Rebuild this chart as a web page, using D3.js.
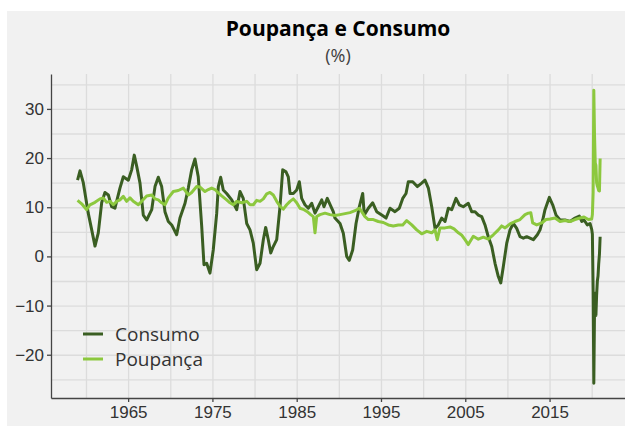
<!DOCTYPE html>
<html>
<head>
<meta charset="utf-8">
<script src="https://cdn.jsdelivr.net/npm/d3@7"></script>
<style>
  body { margin: 0; background: #fff; }
  svg { display: block; font-family: 'Open Sans', 'Noto Sans', sans-serif; }
  .grid line { stroke: #dcdcdc; stroke-width: 1.3; }
  .grid path { display: none; }
  .axis path, .axis line { stroke: #444; stroke-width: 1.3; }
  .axis text { font-size: 17px; fill: #333; }
</style>
</head>
<body>
<div id="chart"></div>
<script>
// dados: [ano, valor em %]
const consumo = [
  [1959.0, 15.5], [1959.29, 17.4], [1959.68, 15], [1960.27, 8.8], [1960.68, 5.4], [1961.07, 2.1],
  [1961.46, 4.8], [1961.86, 10.9], [1962.25, 13], [1962.65, 12.5], [1963.05, 10.1], [1963.44, 9.8],
  [1964.03, 13.9], [1964.43, 16.2], [1965.02, 15.5], [1965.42, 17.6], [1965.73, 20.6], [1966.02, 18.3],
  [1966.41, 14.9], [1966.8, 8.4], [1967.2, 7.4], [1967.8, 9.5], [1968.19, 14.2], [1968.58, 16.1],
  [1968.98, 14.2], [1969.37, 9.1], [1969.77, 7.1], [1970.17, 6.4], [1970.76, 4.4], [1971.15, 7.8],
  [1971.75, 10.8], [1972.14, 13.9], [1972.54, 17.6], [1972.93, 19.8], [1973.32, 16.2], [1973.73, 6.1],
  [1974.0, -1.7], [1974.32, -1.4], [1974.71, -3.4], [1975.1, 1.3], [1975.51, 8.8], [1975.7, 14.2],
  [1975.98, 16.1], [1976.29, 13.5], [1976.69, 12.8], [1977.29, 11.5], [1977.88, 9.5], [1978.27, 13.2],
  [1978.66, 11.8], [1979.07, 6.7], [1979.46, 5.4], [1979.85, 2.7], [1980.25, -2.7], [1980.65, -1.4],
  [1981.04, 3.4], [1981.32, 5.9], [1981.63, 3.4], [1981.92, 0.7], [1982.22, 2], [1982.63, 3.4],
  [1983.02, 10.1], [1983.34, 17.6], [1983.73, 17.2], [1984.0, 16.2], [1984.21, 12.8], [1984.6, 12.8],
  [1985.0, 13.5], [1985.31, 15.2], [1985.59, 11.8], [1985.98, 10.5], [1986.38, 9.8], [1986.78, 10.8],
  [1987.17, 8.8], [1987.56, 10.1], [1987.97, 11.5], [1988.24, 10.1], [1988.63, 11.8], [1989.03, 10.3],
  [1989.34, 9.1], [1989.54, 7.8], [1990.14, 6.7], [1990.53, 4.7], [1990.93, 0], [1991.24, -0.8],
  [1991.64, 1.3], [1992.04, 6.7], [1992.43, 10.1], [1992.83, 12.8], [1993.02, 8.4], [1993.5, 9.8],
  [1994.02, 10.9], [1994.49, 9.1], [1995.09, 8.4], [1995.6, 7.8], [1996.07, 9.8], [1996.66, 9.1],
  [1997.17, 9.8], [1997.58, 11.8], [1997.97, 12.8], [1998.24, 15.2], [1998.76, 15.2], [1999.31, 14.2],
  [1999.83, 14.9], [2000.22, 15.5], [2000.62, 13.9], [2001.02, 10.1], [2001.41, 5.7], [2001.8, 6.4],
  [2002.2, 7.8], [2002.6, 7.1], [2002.99, 9.8], [2003.39, 9.5], [2003.9, 11.8], [2004.29, 10.5],
  [2004.77, 10.1], [2005.36, 10.8], [2005.76, 9.1], [2006.16, 9.1], [2006.55, 8.4], [2006.95, 8.1],
  [2007.34, 6.4], [2007.73, 4], [2008.14, 2], [2008.53, -1.4], [2008.92, -4.1], [2009.21, -5.4],
  [2009.51, -2.1], [2009.92, 2.7], [2010.31, 5.4], [2010.7, 6.7], [2011.1, 5.7], [2011.5, 4],
  [2011.89, 3.7], [2012.29, 4], [2012.68, 3.7], [2013.07, 3.4], [2013.55, 4.4], [2013.87, 5.4],
  [2014.19, 7.4], [2014.46, 9.5], [2014.97, 12.0], [2015.37, 10.5], [2015.77, 8.4], [2016.24, 7.4],
  [2016.83, 7.4], [2017.43, 7.1], [2018.02, 7.8], [2018.53, 8.2], [2018.82, 7.1], [2019.09, 7.4],
  [2019.48, 6.4], [2019.8, 6.7], [2020.0, 5.5], [2020.08, 4.5], [2020.17, -7], [2020.25, -25.8],
  [2020.33, -11.5], [2020.42, -7.5], [2020.5, -12], [2020.58, -8], [2020.67, -5], [2020.75, -4],
  [2020.83, -1.5], [2020.92, 0.5], [2021.0, 4]
];

const poupanca = [
  [1959.0, 11.4], [1959.49, 10.7], [1960.08, 9.5], [1960.47, 10.5], [1961.07, 11], [1961.66, 11.7],
  [1962.05, 11.9], [1962.45, 11], [1962.85, 11.2], [1963.24, 10.5], [1963.64, 11.2], [1964.03, 11.5],
  [1964.43, 12.2], [1964.83, 11.2], [1965.22, 11.9], [1965.61, 11.2], [1966.21, 10.5], [1966.61, 11.2],
  [1967.2, 12.3], [1967.8, 12.5], [1968.19, 11.7], [1968.58, 11.5], [1968.98, 10.9], [1969.37, 10.5],
  [1969.77, 11.9], [1970.36, 13.2], [1970.95, 13.4], [1971.55, 13.9], [1972.14, 12.5], [1972.54, 13],
  [1973.13, 14.2], [1973.53, 14.1], [1974.12, 13.2], [1974.51, 13.6], [1974.91, 13.9], [1975.31, 13.6],
  [1975.7, 12.9], [1976.1, 12.3], [1976.69, 11.5], [1977.09, 10.9], [1977.48, 10.5], [1977.88, 11.2],
  [1978.47, 10.9], [1979.07, 11.2], [1979.46, 10.5], [1979.85, 10.5], [1980.25, 11.4], [1980.65, 11.2],
  [1981.04, 11.7], [1981.44, 12.7], [1981.83, 13], [1982.22, 12.5], [1982.63, 11.2], [1983.02, 10.2],
  [1983.41, 9.6], [1983.81, 10.5], [1984.21, 11.2], [1984.6, 11.7], [1985.0, 10.9], [1985.39, 9.8],
  [1985.87, 9.5], [1986.26, 9.1], [1986.66, 8.5], [1986.97, 8.1], [1987.17, 4.8], [1987.37, 8.1],
  [1987.76, 8.5], [1988.36, 8.8], [1988.95, 8.5], [1989.54, 8.3], [1990.14, 8.5], [1990.73, 8.7],
  [1991.32, 8.9], [1991.92, 9.3], [1992.43, 9.8], [1992.71, 9.1], [1993.1, 8.1], [1993.5, 7.5],
  [1994.09, 7.5], [1994.68, 7.1], [1995.28, 6.9], [1995.87, 6.4], [1996.46, 6.2], [1997.06, 6.4],
  [1997.58, 6.4], [1998.05, 7.3], [1998.65, 6.4], [1999.24, 5.4], [1999.83, 4.6], [2000.43, 5.1],
  [2001.02, 4.8], [2001.41, 5.4], [2001.68, 3.4], [2002.0, 5.8], [2002.6, 5.8], [2003.19, 6],
  [2003.67, 5.6], [2004.18, 4.8], [2004.6, 4.3], [2004.97, 3.4], [2005.36, 2.4], [2005.95, 4.1],
  [2006.55, 3.5], [2007.14, 3.9], [2007.73, 3.5], [2008.33, 4.4], [2008.92, 5.4], [2009.32, 6.2],
  [2009.72, 5.8], [2010.31, 6.6], [2010.9, 7.1], [2011.5, 7.5], [2012.09, 8.5], [2012.48, 8.8],
  [2012.77, 8.9], [2013.0, 6.8], [2013.48, 6.4], [2014.07, 6.8], [2014.58, 7.5], [2015.06, 7.6],
  [2015.65, 7.8], [2016.24, 7.1], [2016.83, 7.3], [2017.43, 7.1], [2018.02, 7.5], [2018.61, 7.8],
  [2019.09, 8], [2019.6, 7.5], [2020.0, 7.6], [2020.08, 8.5], [2020.17, 13], [2020.25, 33.8],
  [2020.33, 25], [2020.42, 19], [2020.5, 18.5], [2020.58, 15], [2020.67, 14.3], [2020.75, 13.9],
  [2020.83, 13.4], [2020.92, 13.3], [2021.0, 19.9]
];

const yTicks = [-20, -10, 0, 10, 20, 30];
const xTicks = [1965, 1975, 1985, 1995, 2005, 2015];
const yGrid = d3.range(-25, 36, 5);
const xGrid = d3.range(1960, 2021, 5);

const series = [
  { name: 'Consumo', data: consumo, color: '#3a5e22' },
  { name: 'Poupança', data: poupanca, color: '#8cc83e' }
];

const W = 625, H = 426;
const margin = { top: 74, left: 51, right: 0, bottom: 28 };
const width = W - margin.left - margin.right,
  height = H - margin.top - margin.bottom;

const svg = d3.select('#chart').append('svg')
  .attr('width', W)
  .attr('height', H);

// fundo cinza
svg.append('rect')
  .attr('x', 7).attr('y', 11)
  .attr('width', W - 7).attr('height', H - 11)
  .attr('fill', '#f1f1f1');

const x = d3.scaleLinear().domain([1955.85, 2023.95]).range([0, width]);
const y = d3.scaleLinear().domain([-28.8, 37.1]).range([height, 0]);

const chart = svg.append('g').attr('transform', `translate(${margin.left}, ${margin.top})`);

// grade
chart.append('g')
  .attr('class', 'grid')
  .attr('transform', `translate(0, ${height})`)
  .call(d3.axisBottom(x).tickValues(xGrid).tickSize(-height).tickFormat(''));

chart.append('g')
  .attr('class', 'grid')
  .call(d3.axisLeft(y).tickValues(yGrid).tickSize(-width).tickFormat(''));

// linhas
const line = d3.line()
  .x((d) => x(d[0]))
  .y((d) => y(d[1]));

series.forEach((s) => {
  chart.append('path')
    .datum(s.data)
    .attr('fill', 'none')
    .attr('stroke', s.color)
    .attr('stroke-width', 3)
    .attr('stroke-linejoin', 'round')
    .attr('d', line);
});

// eixos
chart.append('g')
  .attr('class', 'axis')
  .call(d3.axisLeft(y).tickValues(yTicks).tickSize(4).tickSizeOuter(0).tickPadding(3));

chart.append('g')
  .attr('class', 'axis')
  .attr('transform', `translate(0, ${height})`)
  .call(d3.axisBottom(x).tickValues(xTicks).tickFormat(d3.format('d')).tickSize(4).tickSizeOuter(0).tickPadding(4));

// títulos
svg.append('text')
  .attr('x', margin.left + width / 2)
  .attr('y', 36)
  .attr('text-anchor', 'middle')
  .style('font-size', '21px')
  .style('font-weight', 'bold')
  .text('Poupança e Consumo');

svg.append('text')
  .attr('x', margin.left + width / 2)
  .attr('y', 62)
  .attr('text-anchor', 'middle')
  .style('font-size', '18px')
  .attr('fill', '#404040')
  .text('(%)');

// legenda
const legend = svg.append('g').attr('transform', 'translate(83, 334)');
series.forEach((s, i) => {
  const g = legend.append('g').attr('transform', `translate(0, ${i * 25})`);
  g.append('line')
    .attr('x1', 0).attr('x2', 20)
    .attr('stroke', s.color)
    .attr('stroke-width', 3);
  g.append('text')
    .attr('x', 32)
    .attr('y', 6.5)
    .style('font-size', '19px')
    .attr('fill', '#333')
    .text(s.name);
});
</script>
</body>
</html>
